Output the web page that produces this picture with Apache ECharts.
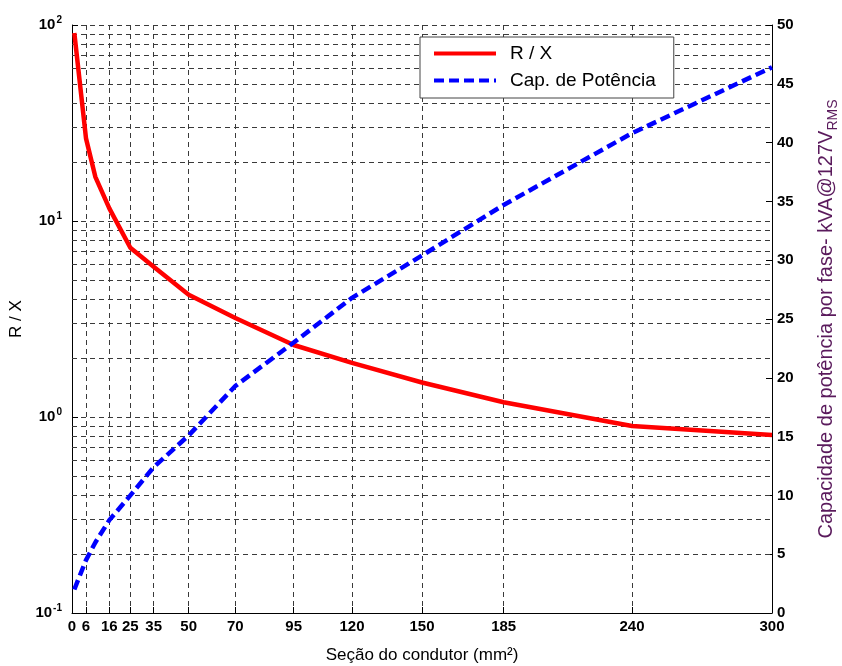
<!DOCTYPE html>
<html>
<head>
<meta charset="utf-8">
<script src="https://cdn.jsdelivr.net/npm/echarts@6/dist/echarts.min.js"></script>
<style>
  html, body { margin: 0; padding: 0; background: #fff; }
  #chart { width: 842px; height: 666px; }
</style>
</head>
<body>
<div id="chart"></div>
<script>
// Conductor cross-sections (mm²) and the two curves drawn against them
const sections = [1, 6, 10, 16, 25, 35, 50, 70, 95, 120, 150, 185, 240, 300];
const ratioRX = [91, 26.4, 16.8, 11.6, 7.3, 5.85, 4.2, 3.2, 2.33, 1.89, 1.50, 1.19, 0.90, 0.81];
const capacity = [2.0, 4.5, 6.0, 7.9, 10.0, 12.4, 15.1, 19.3, 23.0, 26.8, 30.4, 34.7, 40.8, 46.4];

// Labelled sections on the horizontal axis
const sectionTicks = [0, 6, 16, 25, 35, 50, 70, 95, 120, 150, 185, 240, 300];
// Minor decade grid lines of the logarithmic axis
const logMinor = [0.2, 0.3, 0.4, 0.5, 0.6, 0.7, 0.8, 0.9,
                  2, 3, 4, 5, 6, 7, 8, 9,
                  20, 30, 40, 50, 60, 70, 80, 90];

const FONT = '"Liberation Sans", Arial, Helvetica, sans-serif';
const gridDash = { color: '#3a3a3a', type: [5, 4], width: 1 };

const chart = echarts.init(document.getElementById('chart'), null, { renderer: 'canvas' });

chart.setOption({
  animation: false,
  backgroundColor: '#ffffff',
  textStyle: { fontFamily: FONT },
  grid: { left: 72, right: 70, top: 25, bottom: 53, containLabel: false, outerBoundsMode: 'none' },
  legend: {
    orient: 'vertical',
    left: 420, top: 37,
    padding: [7, 18, 8, 12],
    itemGap: 8,
    itemWidth: 62, itemHeight: 18,
    backgroundColor: '#ffffff',
    borderColor: '#444',
    borderWidth: 1,
    borderRadius: 0,
    itemStyle: { opacity: 0 },
    lineStyle: { width: 4 },
    textStyle: { fontFamily: FONT, fontSize: 19, color: '#000', padding: [0, 0, 0, 9] },
    data: ['R / X', 'Cap. de Potência']
  },
  xAxis: {
    type: 'value',
    min: 0, max: 300,
    name: 'Seção do condutor (mm²)',
    nameLocation: 'middle',
    nameGap: 34,
    nameTextStyle: { fontFamily: FONT, fontSize: 17, color: '#000' },
    axisLine: { show: true, onZero: false, lineStyle: { color: '#000', width: 1 } },
    axisTick: { show: true, inside: true, length: 6, customValues: sectionTicks, lineStyle: { color: '#000' } },
    axisLabel: {
      customValues: sectionTicks,
      fontFamily: FONT, fontSize: 15, fontWeight: 'bold', color: '#000', margin: 6
    },
    splitLine: { show: true, lineStyle: gridDash }
  },
  yAxis: [
    {
      type: 'log',
      logBase: 10,
      min: 0.1, max: 100,
      position: 'left',
      name: 'R / X',
      nameLocation: 'middle',
      nameGap: 44,
      nameTextStyle: { fontFamily: FONT, fontSize: 17, color: '#000' },
      axisLine: { show: true, lineStyle: { color: '#000', width: 1 } },
      axisTick: { show: true, inside: true, length: 6, lineStyle: { color: '#000' } },
      axisLabel: {
        margin: 10,
        formatter: function (v) {
          const e = Math.round(Math.log10(v));
          return '{b|10}{s|' + e + '}';
        },
        rich: {
          b: { fontFamily: FONT, fontSize: 15, fontWeight: 'bold', color: '#000' },
          s: { fontFamily: FONT, fontSize: 10, fontWeight: 'bold', color: '#000', verticalAlign: 'top', padding: [0, 0, 9, 1] }
        }
      },
      splitLine: { show: true, lineStyle: gridDash }
    },
    {
      type: 'value',
      min: 0, max: 50, interval: 5,
      position: 'right',
      name: '{m|Capacidade de potência por fase- kVA@127V}{r|RMS}',
      nameLocation: 'middle',
      nameRotate: 90,
      nameGap: 40,
      nameTextStyle: {
        rich: {
          m: { fontFamily: FONT, fontSize: 20, color: '#5a1a5c' },
          r: { fontFamily: FONT, fontSize: 14, color: '#5a1a5c', verticalAlign: 'bottom', padding: [14, 0, 0, 0] }
        }
      },
      axisLine: { show: true, lineStyle: { color: '#000', width: 1 } },
      axisTick: { show: true, inside: true, length: 6, lineStyle: { color: '#000' } },
      axisLabel: { fontFamily: FONT, fontSize: 15, fontWeight: 'bold', color: '#000', margin: 5 },
      splitLine: { show: false }
    }
  ],
  series: [
    {
      name: 'R / X',
      type: 'line',
      yAxisIndex: 0,
      data: sections.map((s, i) => [s, ratioRX[i]]),
      symbol: 'none',
      smooth: false,
      lineStyle: { color: '#ff0000', width: 4.5 },
      itemStyle: { color: '#ff0000' },
      z: 5,
      markLine: {
        silent: true,
        symbol: 'none',
        label: { show: false },
        lineStyle: gridDash,
        z: 1,
        data: logMinor.map(v => ({ yAxis: v }))
      }
    },
    {
      name: 'Cap. de Potência',
      type: 'line',
      yAxisIndex: 1,
      data: sections.map((s, i) => [s, capacity[i]]),
      symbol: 'none',
      smooth: false,
      lineStyle: { color: '#0000ff', width: 4.5, type: [10, 5] },
      itemStyle: { color: '#0000ff' },
      z: 6
    }
  ]
});
</script>
</body>
</html>
